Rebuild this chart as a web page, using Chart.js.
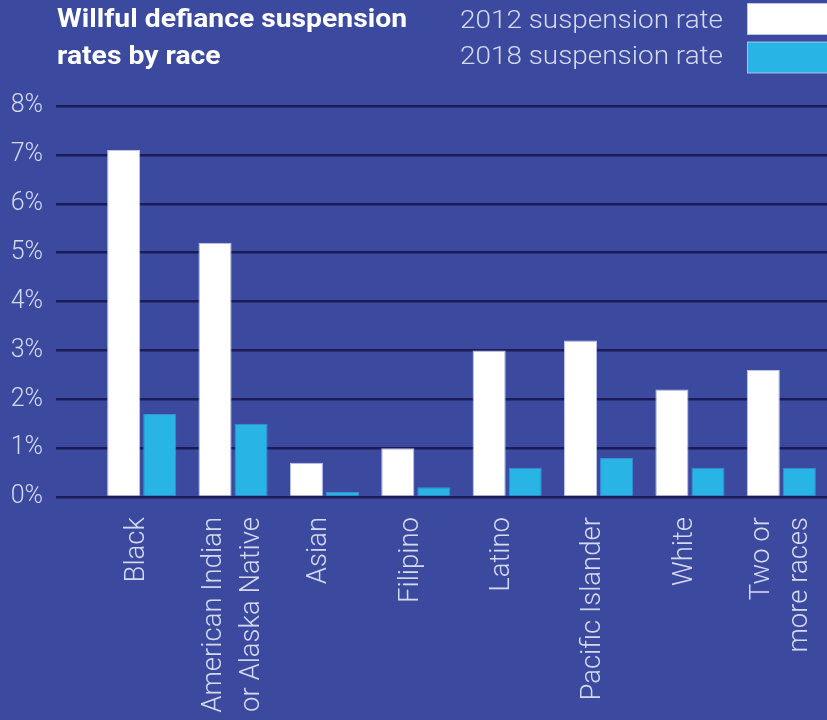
<!DOCTYPE html>
<html>
<head>
<meta charset="utf-8">
<script src="https://cdn.jsdelivr.net/npm/chart.js@4.4.1/dist/chart.umd.min.js"></script>
<style>
  html, body { margin: 0; padding: 0; background: #3b4a9e; }
  #wrap { width: 827px; height: 720px; }
</style>
</head>
<body>
<div id="wrap"><canvas id="c" width="827" height="720"></canvas></div>
<script>
// ---- data ----
const categories = [
  ["Black"],
  ["American Indian", "or Alaska Native"],
  ["Asian"],
  ["Filipino"],
  ["Latino"],
  ["Pacific Islander"],
  ["White"],
  ["Two or", "more races"]
];
const rate2012 = [7.1, 5.2, 0.7, 1.0, 3.0, 3.2, 2.2, 2.6];
const rate2018 = [1.7, 1.5, 0.1, 0.2, 0.6, 0.8, 0.6, 0.6];
const seriesNames = ["2012 suspension rate", "2018 suspension rate"];
const titleLines = ["Willful defiance suspension", "rates by race"];
const yTicks = [0, 1, 2, 3, 4, 5, 6, 7, 8];

// ---- style ----
const BG = '#3b4a9e';
const GRID = '#1b1c57';
const TEXT = '#d6daf0';
const WHITE = '#ffffff';
const CYAN = '#28b4e4';
const FONT = 'Roboto, "Noto Sans", sans-serif';

const headerPlugin = {
  id: 'header',
  beforeDraw(chart) {
    const ctx = chart.ctx;
    ctx.save();
    ctx.fillStyle = BG;
    ctx.fillRect(0, 0, chart.width, chart.height);
    ctx.restore();
  },
  afterDraw(chart) {
    const ctx = chart.ctx;
    ctx.save();
    // title
    ctx.fillStyle = '#ffffff';
    ctx.font = 'bold 26px ' + FONT;
    ctx.textBaseline = 'alphabetic';
    ctx.textAlign = 'left';
    const w0 = ctx.measureText(titleLines[0]).width;
    const sx = 350 / w0;
    titleLines.forEach((t, i) => {
      ctx.save();
      ctx.translate(57, 27 + i * 36.5);
      ctx.scale(sx, 1);
      ctx.fillText(t, 0, 0);
      ctx.restore();
    });
    // legend
    ctx.font = '300 26.5px ' + FONT;
    chart.data.datasets.forEach((ds, i) => {
      const tw = ctx.measureText(ds.label).width;
      const s = 263 / tw;
      ctx.save();
      ctx.translate(723, 27.5 + i * 36.5);
      ctx.scale(s, 1);
      ctx.textAlign = 'right';
      ctx.fillStyle = TEXT;
      ctx.fillText(ds.label, 0, 0);
      ctx.restore();
      const by = 3.5 + i * 38.5;
      ctx.fillStyle = ds.backgroundColor;
      ctx.fillRect(747.5, by, 82, 31);
      ctx.strokeStyle = 'rgba(200,205,240,0.8)';
      ctx.lineWidth = 1;
      ctx.strokeRect(747.5, by, 82, 31);
    });
    ctx.restore();
  }
};

const isMulti = (i) => categories[i] && categories[i].length > 1;

new Chart(document.getElementById('c'), {
  type: 'bar',
  data: {
    labels: categories,
    datasets: [
      { label: seriesNames[0], data: rate2012, backgroundColor: WHITE,
        borderColor: 'rgba(205,210,245,0.9)', borderWidth: 1,
        categoryPercentage: 0.789, barPercentage: 0.917 },
      { label: seriesNames[1], data: rate2018, backgroundColor: CYAN,
        borderColor: 'rgba(60,150,215,0.9)', borderWidth: 1,
        categoryPercentage: 0.789, barPercentage: 0.917 }
    ]
  },
  options: {
    responsive: false,
    animation: false,
    events: [],
    layout: { padding: { top: 106, left: 0, right: 0, bottom: 0 } },
    plugins: {
      legend: { display: false },
      title: { display: false },
      tooltip: { enabled: false }
    },
    scales: {
      x: {
        offset: true,
        grid: { display: false, drawTicks: false },
        border: { display: false },
        ticks: {
          autoSkip: false,
          minRotation: 90,
          maxRotation: 90,
          padding: 20,
          labelOffset: -19,
          color: TEXT,
          font: (c) => ({ family: FONT, size: 27.5, weight: '300',
                          lineHeight: isMulti(c.index) ? '38px' : '14px' }),
          callback: function (value, index) {
            const lines = categories[index];
            return lines.length > 1 ? lines : ['', lines[0]];
          }
        },
        afterFit: (scale) => {
          scale.height = 223;
          scale.paddingLeft = 0;
          scale.paddingRight = 0;
        }
      },
      y: {
        min: yTicks[0],
        max: yTicks[yTicks.length - 1],
        afterBuildTicks: (scale) => { scale.ticks = yTicks.map(v => ({ value: v })); },
        grid: { color: GRID, lineWidth: 2.5, drawTicks: true, tickLength: 40,
                tickColor: GRID, tickWidth: 2.5 },
        border: { display: false },
        ticks: {
          padding: 13,
          color: TEXT,
          font: { family: FONT, size: 25, weight: '300' },
          callback: (v) => v + '%'
        },
        afterFit: (scale) => { scale.width = 96; }
      }
    }
  },
  plugins: [headerPlugin]
});
</script>
</body>
</html>
